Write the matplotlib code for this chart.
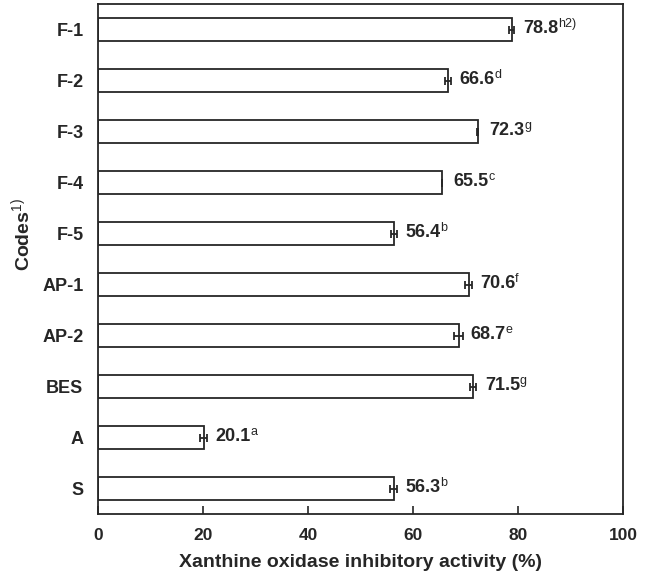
import matplotlib
matplotlib.use("Agg")
import matplotlib.pyplot as plt

plt.rcParams['font.family'] = ['Liberation Sans', 'DejaVu Sans']
plt.rcParams['mathtext.fontset'] = 'custom'
plt.rcParams['mathtext.rm'] = 'Liberation Sans'
plt.rcParams['mathtext.it'] = 'Liberation Sans'
plt.rcParams['mathtext.bf'] = 'Liberation Sans:bold'

codes = ["F-1", "F-2", "F-3", "F-4", "F-5", "AP-1", "AP-2", "BES", "A", "S"]
activity = [78.8, 66.6, 72.3, 65.5, 56.4, 70.6, 68.7, 71.5, 20.1, 56.3]
sd = [0.45, 0.6, 0.1, 0.0, 0.5, 0.65, 0.8, 0.55, 0.65, 0.65]
letters = ["h2)", "d", "g", "c", "b", "f", "e", "g", "a", "b"]
x_ticks = [0, 20, 40, 60, 80, 100]

ink = "#262626"

fig = plt.figure(figsize=(6.46, 5.75), dpi=100)
ax = fig.add_axes([98 / 646, 61 / 575, 525 / 646, 510 / 575])

pos = list(range(len(codes)))
ax.barh(pos, activity, height=0.46, color="white", edgecolor=ink,
        linewidth=1.3, xerr=sd,
        error_kw=dict(ecolor=ink, elinewidth=1.3, capsize=3, capthick=1.3))

for y, v, s, lt in zip(pos, activity, sd, letters):
    t = ax.annotate(f"{v:.1f}", xy=(v, y), xytext=(8.5, 1),
                    textcoords="offset points", ha="left", va="center",
                    fontsize=13, fontweight="bold", color=ink)
    ax.annotate(lt, xy=(1, 1), xycoords=t, xytext=(-0.3, 1.2),
                textcoords="offset points", ha="left", va="top",
                fontsize=9, color=ink)

ax.set_xlim(0, 100)
ax.set_ylim(len(codes) - 0.5, -0.5)
ax.set_xticks(x_ticks)
ax.set_xticklabels([str(v) for v in x_ticks])
ax.set_yticks(pos)
ax.set_yticklabels(codes)

ax.tick_params(axis="x", direction="in", length=6, width=1.2, color=ink,
               pad=10, labelsize=12.5, labelcolor=ink)
ax.tick_params(axis="y", length=0, pad=10.5, labelsize=13, labelcolor=ink)
for lab in ax.get_xticklabels() + ax.get_yticklabels():
    lab.set_fontweight("bold")

for sp in ax.spines.values():
    sp.set_linewidth(1.3)
    sp.set_color(ink)

ax.set_xlabel("Xanthine oxidase inhibitory activity (%)", fontsize=14,
              fontweight="bold", color=ink, labelpad=8)
fig.text(21.5 / 646, 1 - 234 / 575, r"Codes$^{1)}$", rotation=90,
         ha="center", va="center", fontsize=14, fontweight="bold",
         color=ink)

fig.savefig("out.png", dpi=100)
